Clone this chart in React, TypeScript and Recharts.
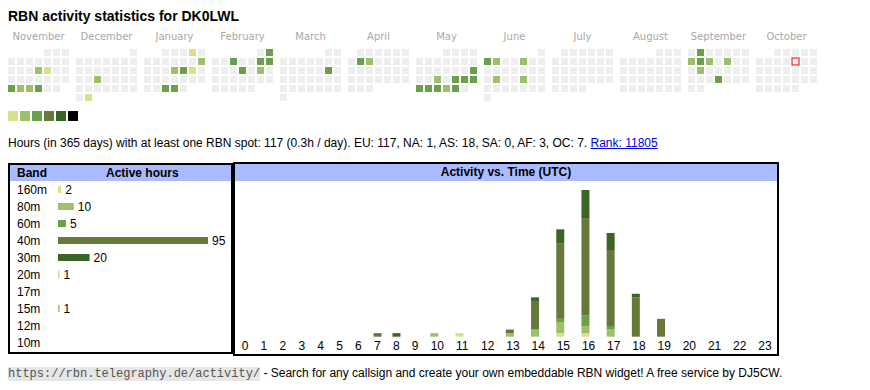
import {
  BarChart,
  Bar,
  XAxis,
  YAxis,
  Cell,
  LabelList,
  ScatterChart,
  Scatter,
} from "recharts";

const CALLSIGN = "DK0LWL";

// calendar: one block per month, Monday first
const MONTH_NAMES = [
  "November", "December", "January", "February", "March", "April",
  "May", "June", "July", "August", "September", "October",
];
const MONTH_KEYS = [
  "2024-11", "2024-12", "2025-01", "2025-02", "2025-03", "2025-04",
  "2025-05", "2025-06", "2025-07", "2025-08", "2025-09", "2025-10",
];
const ACTIVE_DAYS = [
  "2024-11-14", "2024-11-15", "2024-11-25", "2024-11-26", "2024-11-27", "2024-11-28",
  "2024-12-18", "2024-12-31",
  "2025-01-04", "2025-01-12", "2025-01-16", "2025-01-17", "2025-01-18", "2025-01-29", "2025-01-30",
  "2025-02-02", "2025-02-05", "2025-02-08", "2025-02-09", "2025-02-13", "2025-02-15",
  "2025-03-15",
  "2025-04-08", "2025-04-09",
  "2025-05-18", "2025-05-21", "2025-05-23", "2025-05-24", "2025-05-25", "2025-05-26",
  "2025-05-27", "2025-05-28", "2025-05-29", "2025-05-30",
  "2025-06-02", "2025-06-03", "2025-06-06", "2025-06-17", "2025-06-20",
  "2025-09-02", "2025-09-08", "2025-09-09", "2025-09-10", "2025-09-12", "2025-09-16", "2025-09-25",
];
const ACTIVE_LEVELS = [
  2, 1, 3, 2, 2, 3,
  2, 1,
  1, 2, 2, 3, 1, 3, 3,
  3, 3, 3, 3, 3, 2,
  3,
  3, 2,
  3, 2, 3, 3, 3, 3,
  3, 3, 2, 3,
  3, 2, 2, 2, 2,
  3, 2, 3, 2, 2, 2, 3,
];
const TODAY = "2025-10-10";

const LEVEL_COLORS = ["#eeeeee", "#d9e08b", "#9dc06a", "#69a049", "#66793b", "#3b6427", "#000000"];

// band table
const BANDS = ["160m", "80m", "60m", "40m", "30m", "20m", "17m", "15m", "12m", "10m"];
const BAND_HOURS = [2, 10, 5, 95, 20, 1, 0, 1, 0, 0];
const BAND_COLORS = [
  "#d9e08b", "#9dc06a", "#69a049", "#66793b", "#3b6427",
  "#d9e08b", "#9dc06a", "#9dc06a", "#66793b", "#3b6427",
];

// activity vs. hour of day (UTC), per band
const HOURS = [
  "0", "1", "2", "3", "4", "5", "6", "7", "8", "9", "10", "11",
  "12", "13", "14", "15", "16", "17", "18", "19", "20", "21", "22", "23",
];
const H_160M = [0, 0, 0, 0, 0, 0, 0, 0, 0, 0, 0, 0, 0, 0, 0, 1, 1, 0, 0, 0, 0, 0, 0, 0];
const H_80M = [0, 0, 0, 0, 0, 0, 0, 0, 0, 0, 0, 0, 0, 1, 2, 3, 2, 2, 0, 0, 0, 0, 0, 0];
const H_60M = [0, 0, 0, 0, 0, 0, 0, 0, 0, 0, 0, 0, 0, 0, 0, 1, 3, 1, 0, 0, 0, 0, 0, 0];
const H_40M = [0, 0, 0, 0, 0, 0, 0, 1, 0, 0, 0, 0, 0, 1, 8, 21, 27, 21, 11, 5, 0, 0, 0, 0];
const H_30M = [0, 0, 0, 0, 0, 0, 0, 0, 1, 0, 0, 0, 0, 0, 1, 4, 8, 5, 1, 0, 0, 0, 0, 0];
const H_20M = [0, 0, 0, 0, 0, 0, 0, 0, 0, 0, 0, 1, 0, 0, 0, 0, 0, 0, 0, 0, 0, 0, 0, 0];
const H_17M = [0, 0, 0, 0, 0, 0, 0, 0, 0, 0, 0, 0, 0, 0, 0, 0, 0, 0, 0, 0, 0, 0, 0, 0];
const H_15M = [0, 0, 0, 0, 0, 0, 0, 0, 0, 0, 1, 0, 0, 0, 0, 0, 0, 0, 0, 0, 0, 0, 0, 0];
const H_12M = [0, 0, 0, 0, 0, 0, 0, 0, 0, 0, 0, 0, 0, 0, 0, 0, 0, 0, 0, 0, 0, 0, 0, 0];
const H_10M = [0, 0, 0, 0, 0, 0, 0, 0, 0, 0, 0, 0, 0, 0, 0, 0, 0, 0, 0, 0, 0, 0, 0, 0];
const HOURLY = [H_160M, H_80M, H_60M, H_40M, H_30M, H_20M, H_17M, H_15M, H_12M, H_10M];

const FONT = "'Liberation Sans', Arial, sans-serif";
const HEADER_BG = "#aabbff";

// calendar layout
const MONTH_W = 68;
const CELL = 9;
const CELL_SIZE = 7;

const calendarCells = MONTH_KEYS.flatMap((key, m) => {
  const [yr, mo] = key.split("-").map(Number);
  const offset = (new Date(Date.UTC(yr, mo - 1, 1)).getUTCDay() + 6) % 7;
  const days = new Date(Date.UTC(yr, mo, 0)).getUTCDate();
  return Array.from({ length: days }, (_, i) => {
    const slot = offset + i;
    const date = `${key}-${String(i + 1).padStart(2, "0")}`;
    const k = ACTIVE_DAYS.indexOf(date);
    return {
      date,
      x: m * MONTH_W + (slot % 7) * CELL + CELL_SIZE / 2,
      y: Math.floor(slot / 7),
      level: k >= 0 ? ACTIVE_LEVELS[k] : 0,
      today: date === TODAY,
    };
  });
});
const monthTicks = MONTH_NAMES.map((_, m) => m * MONTH_W + (7 * CELL - 2) / 2);

// hour columns are table cells sized by their label
const hourPos: number[] = [];
let colAcc = 0;
HOURS.forEach((h) => {
  hourPos.push(colAcc + 4);
  colAcc += 12.6 + 6.3 * h.length;
});

const activityData = HOURS.map((h, i) => {
  const row: Record<string, number | string> = { hour: h, pos: hourPos[i] };
  BANDS.forEach((b, j) => {
    row[b] = HOURLY[j][i];
  });
  return row;
});

const bandData = BANDS.map((b, i) => ({ band: b, hours: BAND_HOURS[i] }));

function CalendarCell(props: any) {
  const { cx, cy, payload } = props;
  return (
    <rect
      x={cx - CELL_SIZE / 2}
      y={cy - CELL_SIZE / 2}
      width={CELL_SIZE}
      height={CELL_SIZE}
      fill={LEVEL_COLORS[payload.level]}
      stroke={payload.today ? "#ee0000" : "none"}
      strokeWidth={1}
    />
  );
}

function MonthTick(props: any) {
  const { x, y, payload } = props;
  const idx = monthTicks.indexOf(payload.value);
  return (
    <text x={x} y={y} textAnchor="middle" fill="#a8a8a8" fontSize={10} fontFamily="'DejaVu Sans', sans-serif">
      {MONTH_NAMES[idx]}
    </text>
  );
}

function HourTick(props: any) {
  const { x, y, payload } = props;
  const idx = hourPos.indexOf(payload.value);
  return (
    <text x={x - 4} y={y} dy="0.71em" textAnchor="start" fill="#000" fontSize={12} fontFamily={FONT}>
      {HOURS[idx]}
    </text>
  );
}

function BandTick(props: any) {
  const { y, payload } = props;
  return (
    <text x={7} y={y} dy="0.355em" textAnchor="start" fill="#000" fontSize={12} fontFamily={FONT}>
      {payload.value}
    </text>
  );
}

function BandValue(props: any) {
  const { x, y, width, height, value } = props;
  if (!value) return null;
  return (
    <text x={x + width + 4} y={y + height / 2} dy="0.355em" fill="#000" fontSize={12} fontFamily={FONT}>
      {value}
    </text>
  );
}

export default function App() {
  return (
    <div
      style={{
        position: "absolute",
        left: 0,
        top: 0,
        width: 870,
        height: 390,
        overflow: "hidden",
        background: "#fff",
        fontFamily: FONT,
        color: "#000",
      }}
    >
      <div style={{ position: "absolute", left: 8, top: 8, fontSize: 14, lineHeight: "16px", fontWeight: "bold" }}>
        RBN activity statistics for {CALLSIGN}
      </div>

      <div style={{ position: "absolute", left: 8, top: 28 }}>
        <ScatterChart width={816} height={74} margin={{ top: 0, right: 0, bottom: 0, left: 0 }}>
          <XAxis
            type="number"
            dataKey="x"
            orientation="top"
            domain={[0, 816]}
            ticks={monthTicks}
            interval={0}
            height={20}
            axisLine={false}
            tickLine={false}
            tickSize={0}
            tickMargin={8}
            tick={<MonthTick />}
          />
          <YAxis type="number" dataKey="y" domain={[-0.5, 5.5]} reversed hide width={0} />
          <Scatter data={calendarCells} shape={<CalendarCell />} isAnimationActive={false} />
        </ScatterChart>
      </div>

      <div style={{ position: "absolute", left: 8, top: 111, display: "flex", gap: 2 }}>
        {LEVEL_COLORS.slice(1).map((c) => (
          <div key={c} style={{ width: 10, height: 10, background: c }} />
        ))}
      </div>

      <div style={{ position: "absolute", left: 8, top: 136, fontSize: 12, lineHeight: "14px", whiteSpace: "nowrap" }}>
        Hours (in 365 days) with at least one RBN spot: 117 (0.3h / day). EU: 117, NA: 1, AS: 18, SA: 0, AF: 3, OC:
        7.{" "}
        <a href="#rank" style={{ color: "#0000ee", textDecoration: "underline" }}>
          Rank: 11805
        </a>
      </div>

      {/* band table */}
      <div
        style={{
          position: "absolute",
          left: 8,
          top: 163,
          width: 225,
          height: 191,
          border: "2px solid #000",
          boxSizing: "border-box",
        }}
      >
        <div style={{ position: "relative", height: 16, background: HEADER_BG, fontSize: 12, lineHeight: "16px", fontWeight: "bold" }}>
          <span style={{ position: "absolute", left: 7, top: 0 }}>Band</span>
          <span style={{ position: "absolute", left: 96, top: 0 }}>Active hours</span>
        </div>
        <BarChart
          width={221}
          height={171}
          data={bandData}
          layout="vertical"
          margin={{ top: 0, right: 23, bottom: 1, left: 0 }}
        >
          <XAxis type="number" domain={[0, "dataMax"]} hide />
          <YAxis
            type="category"
            dataKey="band"
            width={48}
            axisLine={false}
            tickLine={false}
            interval={0}
            tick={<BandTick />}
          />
          <Bar dataKey="hours" barSize={7} isAnimationActive={false}>
            {bandData.map((d, i) => (
              <Cell key={d.band} fill={BAND_COLORS[i]} />
            ))}
            <LabelList dataKey="hours" content={<BandValue />} />
          </Bar>
        </BarChart>
      </div>

      {/* activity vs time table */}
      <div
        style={{
          position: "absolute",
          left: 233,
          top: 162,
          width: 546,
          height: 194,
          border: "2px solid #000",
          boxSizing: "border-box",
        }}
      >
        <div
          style={{
            height: 17,
            background: HEADER_BG,
            fontSize: 12,
            lineHeight: "17px",
            fontWeight: "bold",
            textAlign: "center",
          }}
        >
          Activity vs. Time (UTC)
        </div>
        <BarChart
          width={542}
          height={173}
          data={activityData}
          margin={{ top: 9, right: 5.3, bottom: 0, left: 6.7 }}
        >
          <XAxis
            type="number"
            dataKey="pos"
            domain={[0, 530]}
            ticks={hourPos}
            interval={0}
            height={17.3}
            axisLine={false}
            tickLine={false}
            tickSize={0}
            tickMargin={5}
            tick={<HourTick />}
          />
          <YAxis type="number" domain={[0, "dataMax"]} hide />
          {BANDS.map((b, j) => (
            <Bar key={b} dataKey={b} stackId="a" barSize={8} fill={BAND_COLORS[j]} isAnimationActive={false} />
          ))}
        </BarChart>
      </div>

      <div style={{ position: "absolute", left: 8, top: 366, fontSize: 12, lineHeight: "15px", whiteSpace: "nowrap" }}>
        <span
          style={{
            fontFamily: "'Liberation Mono', monospace",
            fontSize: 12,
            background: "#e6e6e6",
            color: "#555",
          }}
        >
          https://rbn.telegraphy.de/activity/
        </span>{" "}
        - Search for any callsign and create your own embeddable RBN widget! A free service by DJ5CW.
      </div>
    </div>
  );
}
